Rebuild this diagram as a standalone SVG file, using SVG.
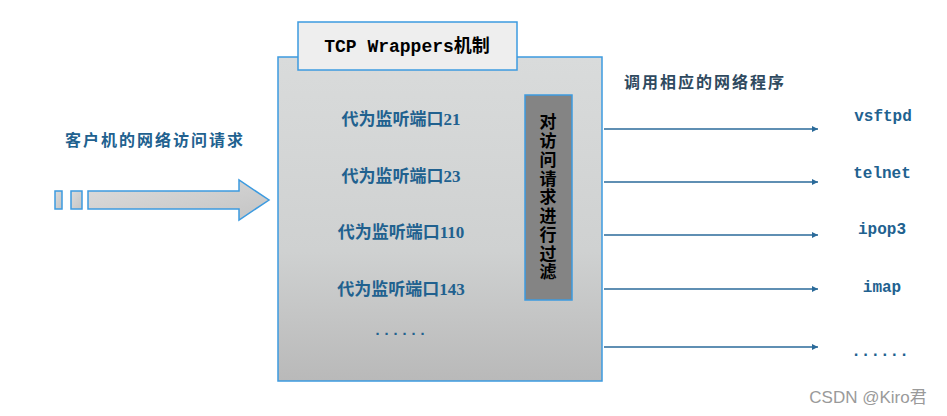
<svg xmlns="http://www.w3.org/2000/svg" width="947" height="416" viewBox="0 0 947 416">
<defs>
<linearGradient id="boxg" x1="0" y1="0" x2="0" y2="1">
<stop offset="0" stop-color="#d9dbdb"/>
<stop offset="0.6" stop-color="#cfd1d1"/>
<stop offset="1" stop-color="#b9b9b9"/>
</linearGradient>
<linearGradient id="arrg" x1="0" y1="0" x2="1" y2="1">
<stop offset="0" stop-color="#dcdcdc"/>
<stop offset="1" stop-color="#c4c4c4"/>
</linearGradient>
<marker id="ah" viewBox="0 0 10 10" refX="10" refY="5" markerWidth="6" markerHeight="6" orient="auto" markerUnits="userSpaceOnUse">
<path d="M0,0 L10,5 L0,10 z" fill="#2a6a9a"/>
</marker>
<style>
.frame{stroke:#3d9be0;stroke-width:1.5}
.port{font-family:"Liberation Serif","Noto Sans CJK SC",serif;font-size:17px;font-weight:bold;fill:#21618f;text-anchor:middle}
.prog{font-family:"Liberation Mono",monospace;font-size:16px;font-weight:bold;fill:#21618f;text-anchor:middle}
.head{font-family:"Noto Sans CJK SC",sans-serif;font-size:16px;font-weight:bold;letter-spacing:2px}
.conn{stroke:#2a6a9a;stroke-width:1.5;fill:none}
.vt{font-family:"Noto Sans CJK SC",sans-serif;font-size:17px;font-weight:bold;fill:#000;writing-mode:vertical-rl;letter-spacing:1.75px}
</style>
</defs>

<g id="client">
<text class="head" x="155" y="146" fill="#21618f" text-anchor="middle">客户机的网络访问请求</text>
<rect class="frame" x="55" y="191" width="7" height="18" fill="url(#arrg)"/>
<rect class="frame" x="71" y="191" width="11" height="18" fill="url(#arrg)"/>
<path class="frame" d="M88,191 L239,191 L239,180 L269,200 L239,220 L239,209 L88,209 Z" fill="url(#arrg)"/>
</g>

<g id="wrapper">
<rect class="frame" x="278" y="57" width="324" height="324" fill="url(#boxg)"/>
<text class="port" x="401" y="125">代为监听端口21</text>
<text class="port" x="401" y="182">代为监听端口23</text>
<text class="port" x="401" y="238">代为监听端口110</text>
<text class="port" x="401" y="295">代为监听端口143</text>
<text x="400" y="335" font-family="'Liberation Mono',monospace" font-size="15" font-weight="bold" fill="#21618f" text-anchor="middle">......</text>
</g>

<g id="title">
<rect class="frame" x="298" y="22" width="219" height="48" fill="#eeeeee"/>
<text x="407" y="52" font-family="Liberation Mono,'Noto Sans CJK SC',monospace" font-size="18" font-weight="bold" fill="#000" text-anchor="middle">TCP Wrappers机制</text>
</g>

<g id="filter">
<rect class="frame" x="525" y="95" width="47" height="205" fill="#848484"/>
<text class="vt" x="548" y="113.5">对访问请求进行过滤</text>
</g>

<g id="programs">
<text class="head" x="705" y="88" fill="#2f4a60" text-anchor="middle">调用相应的网络程序</text>
<text class="prog" x="883" y="121">vsftpd</text>
<text class="prog" x="882" y="178">telnet</text>
<text class="prog" x="882" y="234">ipop3</text>
<text class="prog" x="882" y="292">imap</text>
<text class="prog" x="880" y="356">......</text>
</g>

<g id="connectors">
<line class="conn" x1="604" y1="129" x2="818" y2="129" marker-end="url(#ah)"/>
<line class="conn" x1="604" y1="182" x2="818" y2="182" marker-end="url(#ah)"/>
<line class="conn" x1="604" y1="235" x2="818" y2="235" marker-end="url(#ah)"/>
<line class="conn" x1="604" y1="289" x2="818" y2="289" marker-end="url(#ah)"/>
<line class="conn" x1="604" y1="347" x2="818" y2="347" marker-end="url(#ah)"/>
</g>

<text x="868" y="403" font-family="'Liberation Sans','Noto Sans CJK SC',sans-serif" font-size="17" fill="#9a9a9a" text-anchor="middle">CSDN @Kiro君</text>
</svg>
